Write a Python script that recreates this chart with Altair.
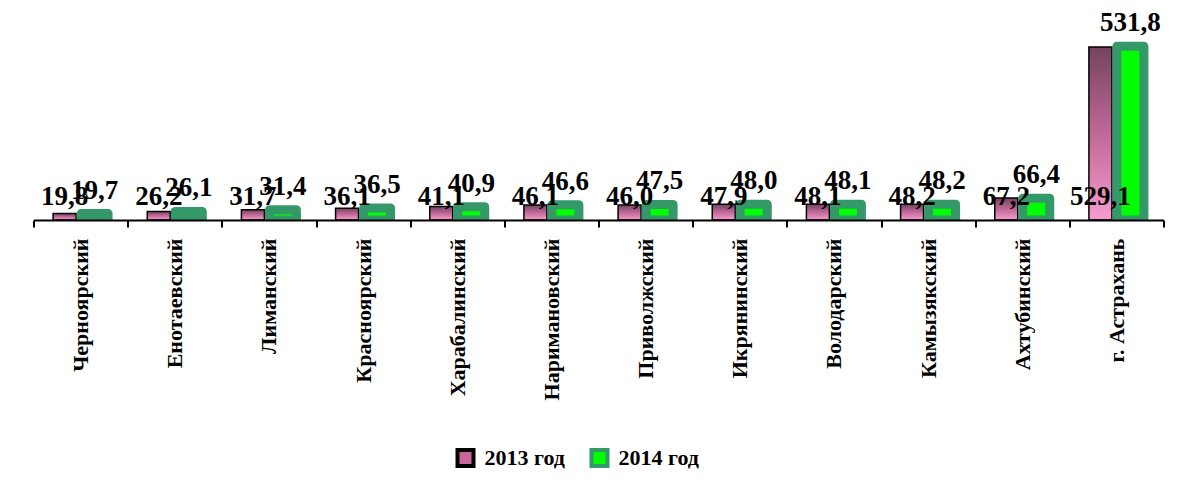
import altair as alt
import pandas as pd

regions = ["Черноярский", "Енотаевский", "Лиманский", "Красноярский", "Харабалинский",
           "Наримановский", "Приволжский", "Икрянинский", "Володарский", "Камызякский",
           "Ахтубинский", "г. Астрахань"]
series = ["2013 год", "2014 год"]
v2013 = [19.8, 26.2, 31.7, 36.1, 41.1, 46.1, 46.0, 47.9, 48.1, 48.2, 67.2, 529.1]
v2014 = [19.7, 26.1, 31.4, 36.5, 40.9, 46.6, 47.5, 48.0, 48.1, 48.2, 66.4, 531.8]

rows = []
for r, a, b in zip(regions, v2013, v2014):
    rows.append({"region": r, "series": series[0], "value": a})
    rows.append({"region": r, "series": series[1], "value": b})
df = pd.DataFrame(rows)
df["label"] = df["value"].map(lambda v: f"{v:.1f}".replace(".", ","))
df["base"] = 0.0

SERIF = "Liberation Serif"

x = alt.X("region:N", sort=regions,
          scale=alt.Scale(paddingInner=0, paddingOuter=0),
          axis=alt.Axis(title=None, labelAngle=-90, labelFont=SERIF, labelFontWeight="bold",
                        labelFontSize=22, labelColor="black", labelPadding=11, labelLimit=400,
                        domainColor="black", domainWidth=2, tickColor="black", tickWidth=2,
                        tickSize=7, tickBand="extent", zindex=1))
yscale = alt.Scale(domain=[0, 560])
fill_scale = alt.Scale(domain=series, range=["#c9679a", "#00ff00"])
stroke_scale = alt.Scale(domain=series, range=["#000000", "#349868"])
legend = alt.Legend(title=None, orient="none", legendX=421, legendY=410, direction="horizontal",
                    labelFont=SERIF, labelFontWeight="bold", labelFontSize=22, labelColor="black",
                    symbolType="square", symbolSize=256, symbolStrokeWidth=4,
                    columnPadding=18, labelOffset=8)

grad = alt.Gradient(gradient="linear",
                    stops=[alt.GradientStop(color="#74445f", offset=0),
                           alt.GradientStop(color="#c06898", offset=0.5),
                           alt.GradientStop(color="#f79cce", offset=1)],
                    x1=0, x2=0, y1=0, y2=1)

base = alt.Chart(df)
y = alt.Y("value:Q", scale=yscale, axis=None)

bars13 = base.transform_filter(alt.datum.series == series[0]).mark_bar(
    size=23, xOffset=-16, fill=grad, stroke="black", strokeWidth=1.5
).encode(x=x, y=y)

bars14 = base.transform_filter(alt.datum.series == series[1]).mark_bar(
    size=27, xOffset=14, strokeJoin="round", clip=True
).encode(
    x=x, y=y,
    fill=alt.Fill("series:N", scale=fill_scale, legend=legend),
    stroke=alt.Stroke("series:N", scale=stroke_scale, legend=legend),
    strokeWidth=alt.value(9),
)

text13 = base.transform_filter(alt.datum.series == series[0]).mark_text(
    xOffset=-16, dy=-15, baseline="alphabetic", font=SERIF, fontWeight="bold",
    fontSize=27, color="black"
).encode(x=x, y=alt.Y("base:Q", scale=yscale, axis=None), text="label:N")

text14 = base.transform_filter(alt.datum.series == series[1]).mark_text(
    xOffset=14, dy=-15, baseline="alphabetic", font=SERIF, fontWeight="bold",
    fontSize=27, color="black"
).encode(x=x, y=y, text="label:N")

chart = alt.layer(bars13, bars14, text13, text14).properties(
    width=1130, height=183,
    autosize=alt.AutoSizeParams(type="none"),
    padding={"left": 25.5, "top": 29, "right": 15, "bottom": 252},
    background="white",
).configure_view(stroke=None)

chart.save("out.html", embed_options={"renderer": "svg", "actions": False})
